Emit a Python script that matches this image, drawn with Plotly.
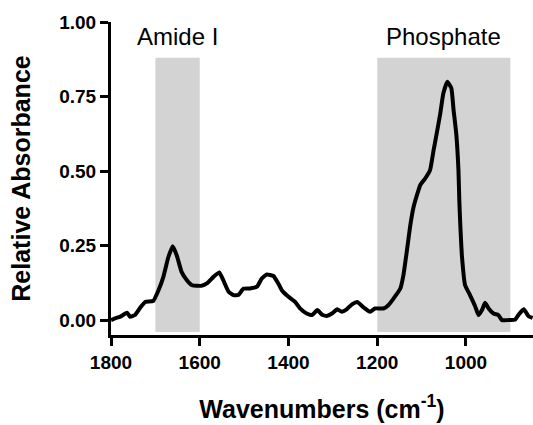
import plotly.graph_objects as go

wavenumbers = [1800, 1791, 1780, 1773, 1764, 1757, 1746, 1735, 1723, 1705, 1693, 1682, 1671, 1661,
               1652, 1641, 1629, 1617, 1596, 1584, 1569, 1556, 1547, 1535, 1524, 1513, 1502, 1487,
               1471, 1460, 1449, 1434, 1423, 1415, 1400, 1385, 1374, 1359, 1347, 1335, 1325, 1314,
               1302, 1290, 1280, 1269, 1257, 1245, 1231, 1216, 1205, 1186, 1175, 1163, 1148, 1141,
               1133, 1126, 1118, 1107, 1103, 1092, 1081, 1073, 1066, 1058, 1051, 1042, 1033, 1028,
               1022, 1017, 1015, 1013, 1009, 1002, 991, 979, 972, 964, 957, 949, 938, 927, 919, 904,
               889, 882, 870, 859, 850]
absorbance = [0.0, 0.006, 0.011, 0.017, 0.025, 0.011, 0.017, 0.04, 0.061, 0.064, 0.10, 0.145, 0.21, 0.248,
              0.218, 0.162, 0.134, 0.117, 0.115, 0.123, 0.145, 0.16, 0.134, 0.095, 0.084, 0.084, 0.105, 0.106,
              0.112, 0.14, 0.153, 0.148, 0.123, 0.10, 0.078, 0.061, 0.039, 0.022, 0.017, 0.034, 0.019, 0.014,
              0.022, 0.036, 0.028, 0.036, 0.053, 0.061, 0.043, 0.028, 0.039, 0.039, 0.05, 0.073, 0.106, 0.151,
              0.235, 0.313, 0.38, 0.436, 0.453, 0.475, 0.503, 0.57, 0.626, 0.693, 0.761, 0.80, 0.778, 0.705,
              0.626, 0.503, 0.40, 0.324, 0.212, 0.117, 0.084, 0.045, 0.017, 0.034, 0.058, 0.039, 0.022, 0.017, 0.0, 0.0,
              0.002, 0.017, 0.036, 0.013, 0.007]

region_labels = ["Amide I", "Phosphate"]
region_starts = [1700, 1200]
region_ends = [1600, 900]
region_bottom = -0.04
region_top = 0.88
label_y = 0.95

x_ticks = [1800, 1600, 1400, 1200, 1000]
y_ticks = [0.00, 0.25, 0.50, 0.75, 1.00]

FONT = "Liberation Sans, Arial, sans-serif"

fig = go.Figure()
fig.add_trace(go.Scatter(x=wavenumbers, y=absorbance, mode="lines",
                         line=dict(color="black", width=4, shape="spline", smoothing=0.4),
                         showlegend=False))

for lab, x0, x1 in zip(region_labels, region_starts, region_ends):
    fig.add_shape(type="rect", xref="x", yref="y", x0=x0, x1=x1, y0=region_bottom, y1=region_top,
                  fillcolor="#d3d3d3", line=dict(width=0), layer="below")
    fig.add_annotation(x=(x0 + x1) / 2, y=label_y, xref="x", yref="y", text=lab, showarrow=False,
                       font=dict(family=FONT, size=24, color="black"))

fig.update_layout(
    width=533, height=425,
    margin=dict(l=111, r=0, t=22, b=90),
    paper_bgcolor="white", plot_bgcolor="white",
    font=dict(family=FONT, color="black"),
)
fig.update_xaxes(range=[1800, 849], tickvals=x_ticks, ticktext=[f"<b>{v}</b>" for v in x_ticks],
                 automargin=False,
                 showline=True, linecolor="black", linewidth=3, ticks="outside", ticklen=8,
                 tickwidth=3, tickcolor="black", showgrid=False, zeroline=False,
                 tickfont=dict(family=FONT, size=19, color="black"),
                 title=dict(text="<b>Wavenumbers (cm<sup>-1</sup>)</b>", standoff=29,
                            font=dict(family=FONT, size=25, color="black")))
fig.update_yaxes(range=[-0.05, 1.0], tickvals=y_ticks, ticktext=[f"<b>{v:.2f}</b>" for v in y_ticks],
                 automargin=False,
                 showline=True, linecolor="black", linewidth=3, ticks="outside", ticklen=8,
                 tickwidth=3, tickcolor="black", showgrid=False, zeroline=False,
                 tickfont=dict(family=FONT, size=19, color="black"),
                 title=dict(text="<b>Relative Absorbance</b>", standoff=22,
                            font=dict(family=FONT, size=25, color="black")))

fig.write_html("out.html", config={"displayModeBar": False},
               post_script="document.body.style.margin='0px';document.body.style.overflow='hidden';")
